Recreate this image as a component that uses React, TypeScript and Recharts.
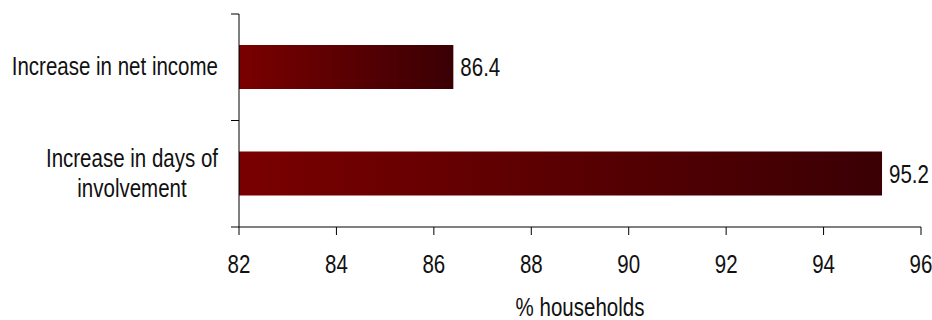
import { BarChart, Bar, XAxis, YAxis, LabelList } from 'recharts'

const CATEGORIES = ['Increase in net income', 'Increase in days of\ninvolvement']
const HOUSEHOLD_PCT = [86.4, 95.2]
const X_TICKS = [82, 84, 86, 88, 90, 92, 94, 96]

// no narrow font installed, so Liberation Sans is squeezed horizontally
const FONT = '"Liberation Sans", Arial, sans-serif'
const FONT_SIZE = 25
const SQUEEZE = 0.82
const CAP = 9 // half cap height, used to centre text on a point

const WIDTH = 932
const HEIGHT = 320
const MARGIN = { top: 14, right: 11, left: 0, bottom: 0 }
const Y_AXIS_W = 239
const X_AXIS_H = 93
const TICK_SIZE = 8
const TICK_MARGIN = 13
const LINE_H = 30
const BAND = (HEIGHT - MARGIN.top - MARGIN.bottom - X_AXIS_H) / CATEGORIES.length

const data = CATEGORIES.map((name, i) => ({ name, value: HOUSEHOLD_PCT[i] }))

let measureCtx: CanvasRenderingContext2D | null = null
function textWidth(s: string) {
  if (!measureCtx) measureCtx = document.createElement('canvas').getContext('2d')
  if (!measureCtx) return s.length * FONT_SIZE * 0.45 * SQUEEZE
  measureCtx.font = `${FONT_SIZE}px ${FONT}`
  return measureCtx.measureText(s).width * SQUEEZE
}

function NarrowText({ x, y, anchor = 'start', children }: { x: number; y: number; anchor?: string; children: any }) {
  return (
    <text
      transform={`translate(${x} ${y}) scale(${SQUEEZE} 1)`}
      textAnchor={anchor}
      fontFamily={FONT}
      fontSize={FONT_SIZE}
      fill="#111"
    >
      {children}
    </text>
  )
}

// category label: lines centred on each other, block right-aligned; ticks sit on band edges
function CategoryTick(props: any) {
  const { x, y, payload, index, visibleTicksCount } = props
  const lines = String(payload.value).split('\n')
  const blockW = Math.max(...lines.map(textWidth))
  const cx = x - blockW / 2
  const axisX = x + TICK_MARGIN + TICK_SIZE
  const firstBaseline = y + 8 - ((lines.length - 1) * LINE_H) / 2
  const last = index === visibleTicksCount - 1
  return (
    <g>
      <line x1={axisX - TICK_SIZE} x2={axisX} y1={y - BAND / 2} y2={y - BAND / 2} stroke="#000" />
      {last && <line x1={axisX - TICK_SIZE} x2={axisX} y1={y + BAND / 2} y2={y + BAND / 2} stroke="#000" />}
      {lines.map((ln, i) => (
        <NarrowText key={i} x={cx} y={firstBaseline + i * LINE_H} anchor="middle">
          {ln}
        </NarrowText>
      ))}
    </g>
  )
}

function ValueTick(props: any) {
  const { x, y, payload } = props
  return (
    <NarrowText x={x} y={y + 2 * CAP} anchor="middle">
      {payload.value}
    </NarrowText>
  )
}

function BarValue(props: any) {
  const { x, y, width, height, value } = props
  return (
    <NarrowText x={x + width + 7} y={y + height / 2 + CAP}>
      {value}
    </NarrowText>
  )
}

function AxisTitle(props: any) {
  const vb = props.viewBox
  if (!vb) return null
  return (
    <NarrowText x={vb.x + vb.width / 2} y={vb.y + vb.height - 4} anchor="middle">
      % households
    </NarrowText>
  )
}

export default function App() {
  return (
    <div style={{ position: 'absolute', left: 0, top: 0, background: '#fff' }}>
      <BarChart width={WIDTH} height={HEIGHT} data={data} layout="vertical" margin={MARGIN}>
        <defs>
          <linearGradient id="barGrad" x1="0" y1="0" x2="1" y2="0">
            <stop offset="0%" stopColor="#7a0000" />
            <stop offset="100%" stopColor="#3a0004" />
          </linearGradient>
        </defs>
        <XAxis
          type="number"
          domain={[82, 96]}
          ticks={X_TICKS}
          allowDataOverflow
          height={X_AXIS_H}
          stroke="#000"
          tickSize={TICK_SIZE}
          tickMargin={20}
          tick={<ValueTick />}
          label={<AxisTitle />}
        />
        <YAxis
          type="category"
          dataKey="name"
          width={Y_AXIS_W}
          stroke="#000"
          tickLine={false}
          tickSize={TICK_SIZE}
          tickMargin={TICK_MARGIN}
          tick={<CategoryTick />}
          interval={0}
        />
        <Bar dataKey="value" fill="url(#barGrad)" barSize={44} isAnimationActive={false}>
          <LabelList dataKey="value" content={<BarValue />} />
        </Bar>
      </BarChart>
    </div>
  )
}
